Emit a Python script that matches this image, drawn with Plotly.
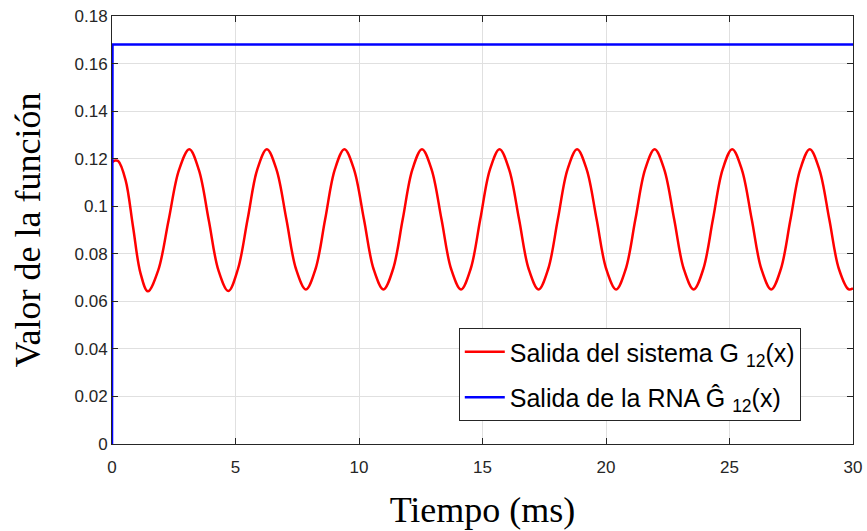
import plotly.graph_objects as go

# Time (ms) and function values
t_red = [0.0, 0.12, 0.25, 0.55, 0.85, 1.15, 1.45,
         1.87, 2.29, 2.71, 3.13, 3.52, 3.92, 4.31, 4.71,
         5.10, 5.49, 5.88, 6.27, 6.66, 7.06, 7.45, 7.85,
         8.24, 8.63, 9.02, 9.41, 9.80, 10.20, 10.59, 10.99,
         11.38, 11.77, 12.16, 12.55, 12.94, 13.34, 13.73, 14.13,
         14.52, 14.91, 15.30, 15.69, 16.08, 16.48, 16.87, 17.27,
         17.66, 18.05, 18.44, 18.83, 19.22, 19.62, 20.01, 20.41,
         20.80, 21.19, 21.58, 21.97, 22.36, 22.76, 23.15, 23.55,
         23.94, 24.33, 24.72, 25.11, 25.50, 25.90, 26.29, 26.69,
         27.08, 27.47, 27.86, 28.25, 28.64, 29.04, 29.43, 29.83, 30.0]
y_red = [0.1185, 0.1192, 0.1190, 0.1110, 0.0915, 0.0720, 0.0642,
         0.0730, 0.0940, 0.1152, 0.1240, 0.1152, 0.0940, 0.0730, 0.0643,
         0.0736, 0.0945, 0.1154, 0.1240, 0.1154, 0.0945, 0.0736, 0.0650,
         0.0736, 0.0945, 0.1154, 0.1240, 0.1154, 0.0945, 0.0736, 0.0650,
         0.0736, 0.0945, 0.1154, 0.1240, 0.1154, 0.0945, 0.0736, 0.0650,
         0.0736, 0.0945, 0.1154, 0.1240, 0.1154, 0.0945, 0.0736, 0.0650,
         0.0736, 0.0945, 0.1154, 0.1240, 0.1154, 0.0945, 0.0736, 0.0650,
         0.0736, 0.0945, 0.1154, 0.1240, 0.1154, 0.0945, 0.0736, 0.0650,
         0.0736, 0.0945, 0.1154, 0.1240, 0.1154, 0.0945, 0.0736, 0.0650,
         0.0736, 0.0945, 0.1154, 0.1240, 0.1154, 0.0945, 0.0736, 0.0650, 0.0655]

t_blue = [0.0, 0.02, 30.0]
y_blue = [0.0, 0.168, 0.168]

x_ticks = [0, 5, 10, 15, 20, 25, 30]
x_tick_labels = ["0", "5", "10", "15", "20", "25", "30"]
y_ticks = [0, 0.02, 0.04, 0.06, 0.08, 0.10, 0.12, 0.14, 0.16, 0.18]
y_tick_labels = ["0", "0.02", "0.04", "0.06", "0.08", "0.1", "0.12", "0.14", "0.16", "0.18"]

name_red = "Salida del sistema G <sub>12</sub>(x)"
name_blue = "Salida de la RNA Ĝ <sub>12</sub>(x)"

fig = go.Figure()
fig.add_trace(go.Scatter(x=t_red, y=y_red, mode="lines", name=name_red, legendgroup="a",
                         line=dict(color="#ff0000", width=2.5, shape="spline", smoothing=1.0)))
fig.add_trace(go.Scatter(x=t_blue, y=y_blue, mode="lines", name=name_blue, legendgroup="b",
                         line=dict(color="#0000ff", width=2.5)))

axis_common = dict(showline=True, linecolor="#262626", linewidth=1, mirror="allticks",
                   ticks="inside", ticklen=6, tickcolor="#262626", automargin=False,
                   showgrid=True, gridcolor="#e0e0e0", gridwidth=1, zeroline=False,
                   tickfont=dict(family="Liberation Sans, Arial", size=17, color="#262626"))

title_font = dict(family="Liberation Serif, Times New Roman", size=36, color="black")

fig.update_layout(
    width=867, height=531,
    margin=dict(l=112, r=14, t=16, b=87),
    paper_bgcolor="white", plot_bgcolor="white",
    xaxis=dict(range=[0, 30], tickvals=x_ticks, ticktext=x_tick_labels, ticklabelstandoff=8,
               title=dict(text="Tiempo (ms)", standoff=20, font=title_font),
               **axis_common),
    yaxis=dict(range=[0, 0.18], tickvals=y_ticks, ticktext=y_tick_labels,
               title=dict(text="Valor de la función", standoff=22, font=title_font),
               **axis_common),
    legend=dict(x=0.468, y=0.271, xanchor="left", yanchor="top",
                bgcolor="white", bordercolor="#262626", borderwidth=1,
                font=dict(family="Liberation Sans, Arial", size=25, color="black"),
                itemwidth=40, tracegroupgap=10),
    showlegend=True,
)

fig.write_html("out.html")
